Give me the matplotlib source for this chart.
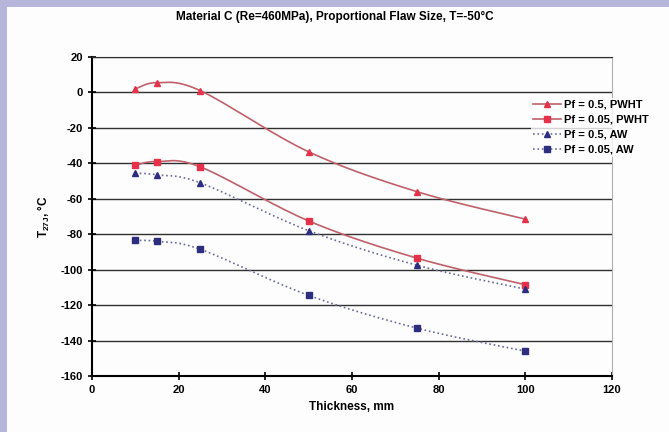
import numpy as np
import matplotlib.pyplot as plt
from matplotlib.patches import Rectangle

plt.rcParams['font.family'] = ['Liberation Sans', 'DejaVu Sans']
plt.rcParams['mathtext.fontset'] = 'custom'
plt.rcParams['mathtext.rm'] = 'Liberation Sans:bold'
plt.rcParams['mathtext.bf'] = 'Liberation Sans:bold'
plt.rcParams['axes.unicode_minus'] = False

# Data
thickness = [10, 15, 25, 50, 75, 100]
pf05_pwht = [2, 5.5, 1, -33.5, -56, -71.5]
pf005_pwht = [-41, -39, -42, -72.5, -93.5, -108.5]
pf05_aw = [-45.5, -46.5, -51, -78, -97.5, -111]
pf005_aw = [-83.5, -84, -88.5, -114.5, -133, -146]

labels = ["Pf = 0.5, PWHT", "Pf = 0.05, PWHT", "Pf = 0.5, AW", "Pf = 0.05, AW"]


def smooth(xs, ys, n=30):
    # Excel-style smoothed line: cubic Bezier between points
    p = np.column_stack([xs, ys]).astype(float)
    out = []
    for i in range(len(p) - 1):
        p0 = p[i - 1] if i > 0 else p[i]
        p1, p2 = p[i], p[i + 1]
        p3 = p[i + 2] if i + 2 < len(p) else p[i + 1]
        c1 = p1 + (p2 - p0) / 6
        c2 = p2 - (p3 - p1) / 6
        t = np.linspace(0, 1, n)[:, None]
        seg = ((1 - t) ** 3) * p1 + 3 * ((1 - t) ** 2) * t * c1 + 3 * (1 - t) * t ** 2 * c2 + t ** 3 * p2
        out.append(seg if i == 0 else seg[1:])
    pts = np.vstack(out)
    return pts[:, 0], pts[:, 1]


fig = plt.figure(figsize=(6.69, 4.32), dpi=100)
fig.patch.set_facecolor("#b6b6da")
fig.patches.append(Rectangle((7 / 669, 0), 1, 1 - 7 / 432, transform=fig.transFigure,
                             facecolor="#fdfdfd", edgecolor="none", zorder=-10))

ax = fig.add_axes([92 / 669, 1 - 376 / 432, 520 / 669, 319 / 432])
ax.set_zorder(1)
ax.set_facecolor("#fdfdfd")

red_line = "#c0606a"
red_mark = "#e5324a"
blue_line = "#6a6a9c"
blue_mark = "#2e2e80"

styles = [
    (pf05_pwht, red_line, red_mark, "^", "-"),
    (pf005_pwht, red_line, red_mark, "s", "-"),
    (pf05_aw, blue_line, blue_mark, "^", ":"),
    (pf005_aw, blue_line, blue_mark, "s", ":"),
]

handles = []
for (ys, lc, mc, mk, ls), lab in zip(styles, labels):
    sx, sy = smooth(thickness, ys)
    ax.plot(sx, sy, color=lc, ls=ls, lw=1.2, zorder=3)
    ax.plot(thickness, ys, ls="None", marker=mk, color=mc, ms=5, zorder=4)
    h, = ax.plot([], [], color=lc, ls=ls, lw=1.2, marker=mk, mfc=mc, mec=mc, ms=5)
    handles.append(h)

ax.set_xlim(0, 120)
ax.set_ylim(-160, 20)
ax.set_xticks(np.arange(0, 121, 20))
ax.set_yticks(np.arange(-160, 21, 20))
ax.grid(axis="y", color="#303030", lw=1.0)
ax.set_axisbelow(True)
ax.tick_params(direction="inout", length=6, width=1.2, labelsize=8)
for lab in ax.get_xticklabels() + ax.get_yticklabels():
    lab.set_fontweight("bold")

ax.spines["left"].set_linewidth(1.5)
ax.spines["bottom"].set_linewidth(1.5)
ax.spines["top"].set_color("#303030")
ax.spines["right"].set_color("#b0b0b0")

ax.set_xlabel("Thickness, mm", fontsize=8.5, fontweight="bold", labelpad=4)
ax.set_ylabel(r"T$_{\mathrm{27J}}$, °C", fontsize=8.5, fontweight="bold", labelpad=6)
fig.text(0.5, 1 - 17 / 432, "Material C (Re=460MPa), Proportional Flaw Size, T=-50°C",
         ha="center", va="center", fontsize=8.5, fontweight="bold")

leg = fig.legend(handles, labels, loc="upper left", bbox_to_anchor=(525 / 669, 1 - 92 / 432),
                 fontsize=8, frameon=True, handlelength=2.5, labelspacing=0.45,
                 borderpad=0.2, handletextpad=0.3)
leg.set_zorder(5)
leg.get_frame().set_facecolor("#fdfdfd")
leg.get_frame().set_edgecolor("none")
for t in leg.get_texts():
    t.set_fontweight("bold")

fig.savefig("out.png", dpi=100, facecolor=fig.get_facecolor())
